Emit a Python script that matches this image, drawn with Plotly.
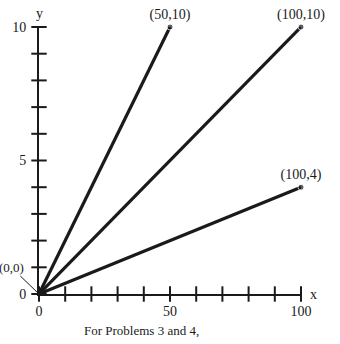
import plotly.graph_objects as go

# Data
lines_x = [[0, 50], [0, 100], [0, 100]]
lines_y = [[0, 10], [0, 10], [0, 4]]
end_labels = ["(50,10)", "(100,10)", "(100,4)"]
x_ticks = [0, 10, 20, 30, 40, 50, 60, 70, 80, 90, 100]
y_ticks = [0, 1, 2, 3, 4, 5, 6, 7, 8, 9, 10]
x_tick_labels = [0, 50, 100]
y_tick_labels = [0, 5, 10]
caption = "For Problems 3 and 4,"

FONT = "Liberation Serif"
INK = "#1a1a1a"

fig = go.Figure()

# tick marks crossing the axes
fig.add_trace(go.Scatter(x=x_ticks, y=[0] * len(x_ticks), mode="markers",
                         marker=dict(symbol="line-ns-open", size=11, color=INK,
                                     line=dict(width=2, color=INK)),
                         hoverinfo="skip", cliponaxis=False))
fig.add_trace(go.Scatter(x=[0] * len(y_ticks), y=y_ticks, mode="markers",
                         marker=dict(symbol="line-ew-open", size=11, color=INK,
                                     line=dict(width=2, color=INK)),
                         hoverinfo="skip", cliponaxis=False))

for xs, ys, lab in zip(lines_x, lines_y, end_labels):
    fig.add_trace(go.Scatter(
        x=xs, y=ys, mode="lines+markers+text",
        line=dict(color=INK, width=3.2),
        marker=dict(size=[0, 6], color=INK),
        text=["", lab], textposition="top center",
        textfont=dict(family=FONT, size=14, color=INK),
        cliponaxis=False, hoverinfo="skip"))

fig.update_layout(
    width=340, height=344,
    margin=dict(l=34, r=39, t=27, b=50),
    paper_bgcolor="white", plot_bgcolor="white",
    showlegend=False,
    font=dict(family=FONT, size=14, color=INK),
    xaxis=dict(range=[0, 100], showgrid=False, zeroline=False,
               showline=True, linecolor=INK, linewidth=2,
               tickvals=x_tick_labels, ticks="", ticklabelstandoff=3,
               tickfont=dict(family=FONT, size=14, color=INK)),
    yaxis=dict(range=[0, 10], showgrid=False, zeroline=False,
               showline=True, linecolor=INK, linewidth=2,
               tickvals=y_tick_labels, ticks="", ticklabelstandoff=8,
               tickfont=dict(family=FONT, size=14, color=INK)),
    annotations=[
        dict(x=0, y=10, xref="x", yref="y", text="y", showarrow=False,
             yshift=14, font=dict(family=FONT, size=14, color=INK)),
        dict(x=100, y=0, xref="x", yref="y", text="x", showarrow=False,
             xshift=12, font=dict(family=FONT, size=14, color=INK)),
        dict(x=0, y=0, xref="x", yref="y", text="(0,0)", showarrow=True,
             arrowhead=0, arrowwidth=1, arrowcolor=INK, ax=-28, ay=-27,
             font=dict(family=FONT, size=13, color=INK)),
        dict(x=0.39, y=-0.135, xref="paper", yref="paper", text=caption,
             showarrow=False, yanchor="middle",
             font=dict(family=FONT, size=13, color=INK)),
    ],
)
fig.write_html("out.html")
